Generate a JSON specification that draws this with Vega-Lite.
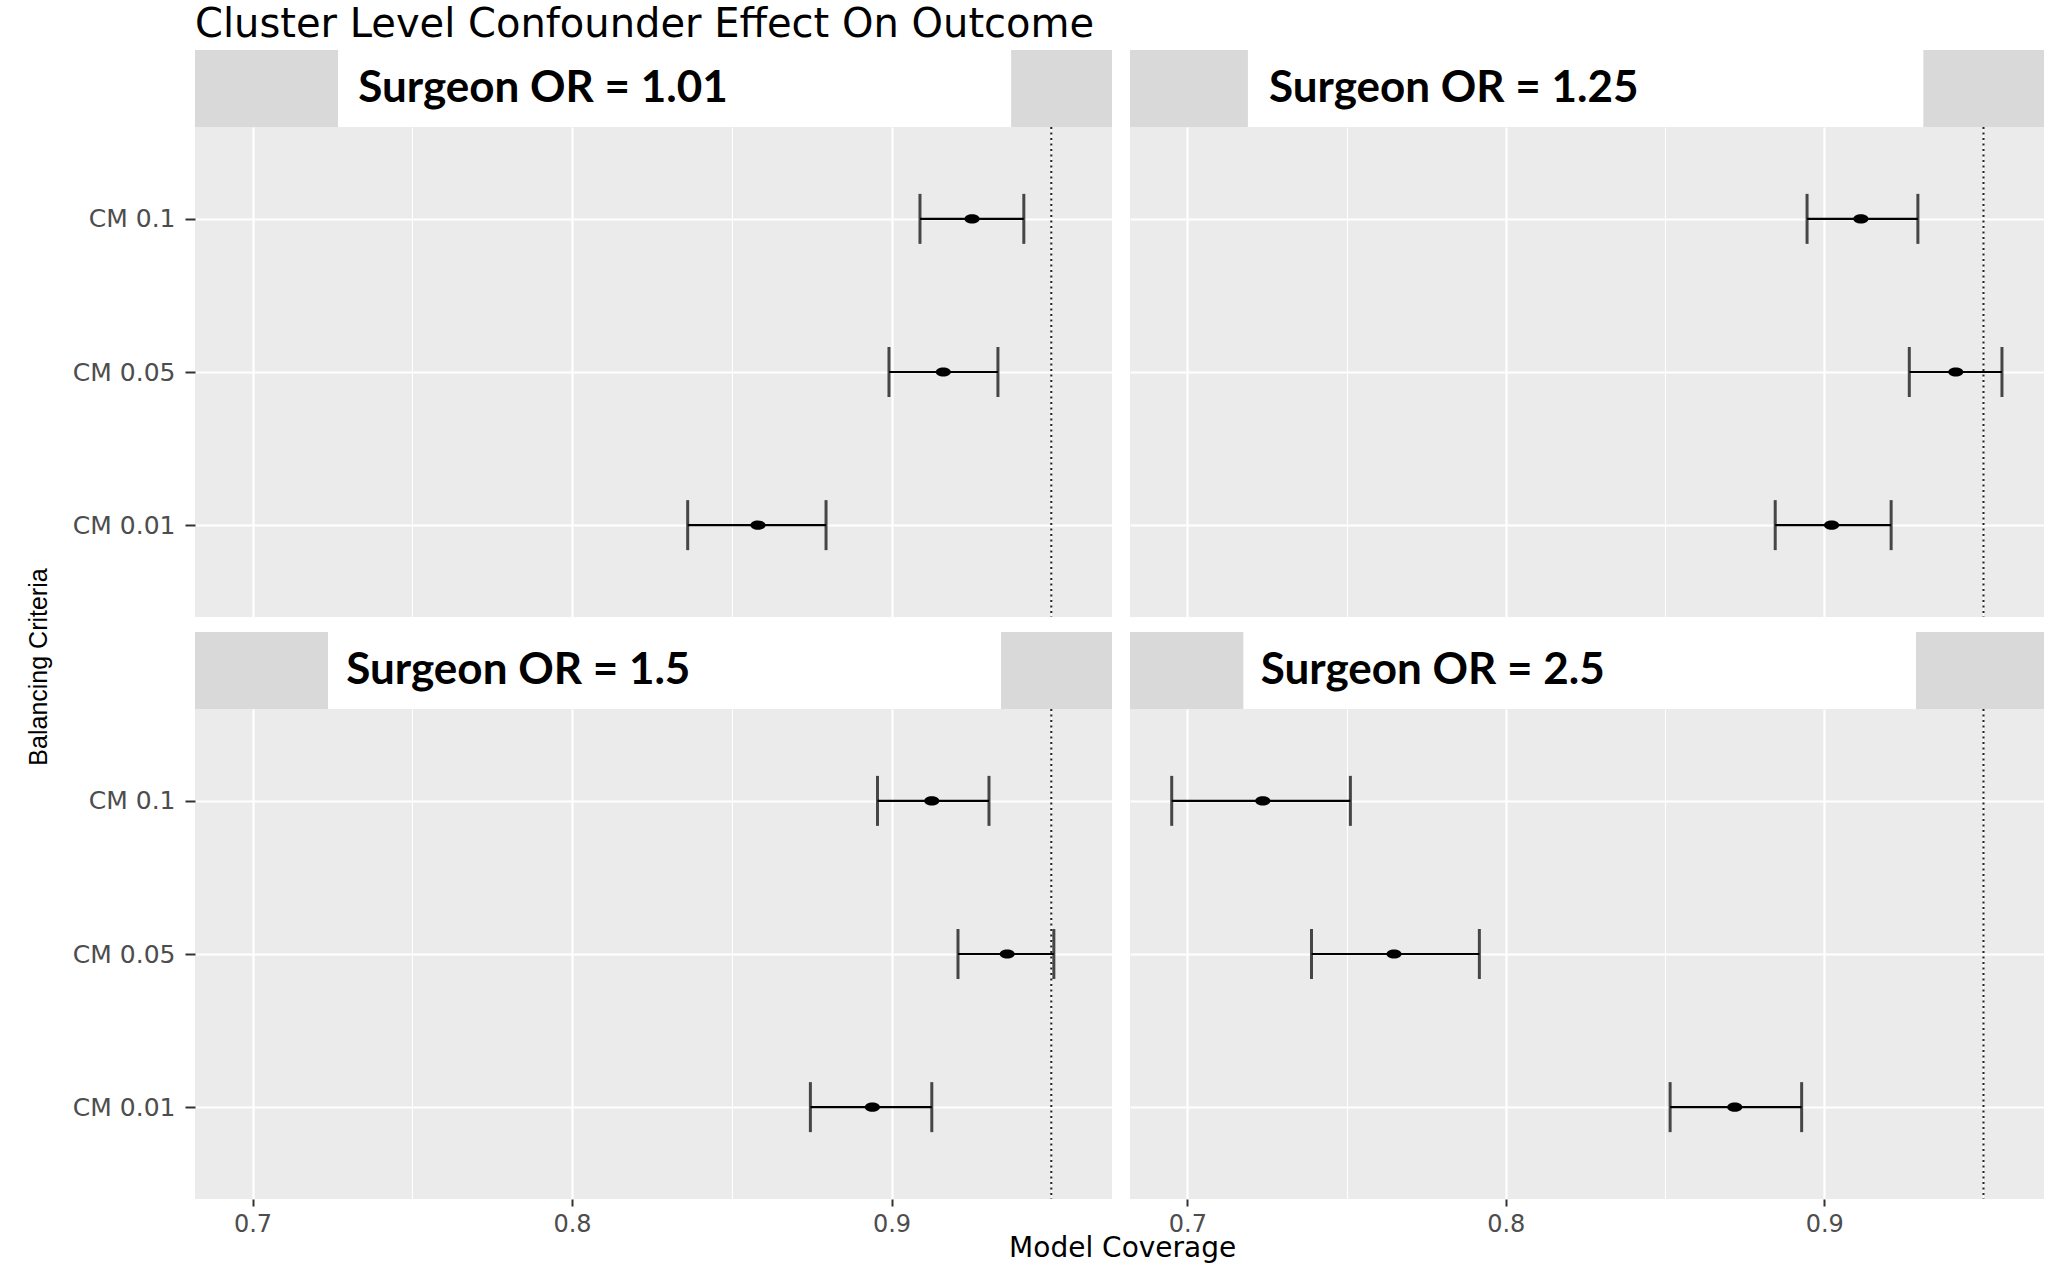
{
  "$schema": "https://vega.github.io/schema/vega-lite/v6.json",
  "background": "white",
  "padding": {"left": 27, "top": 5, "right": 0, "bottom": 0},
  "datasets": {
    "cov": [
      {"or": "Surgeon OR = 1.01", "crit": "CM 0.1", "lo": 0.9089, "est": 0.9252, "hi": 0.9414},
      {"or": "Surgeon OR = 1.01", "crit": "CM 0.05", "lo": 0.8992, "est": 0.9162, "hi": 0.9333},
      {"or": "Surgeon OR = 1.01", "crit": "CM 0.01", "lo": 0.8362, "est": 0.8582, "hi": 0.8795},
      {"or": "Surgeon OR = 1.25", "crit": "CM 0.1", "lo": 0.8946, "est": 0.9115, "hi": 0.9294},
      {"or": "Surgeon OR = 1.25", "crit": "CM 0.05", "lo": 0.9267, "est": 0.9413, "hi": 0.9558},
      {"or": "Surgeon OR = 1.25", "crit": "CM 0.01", "lo": 0.8846, "est": 0.9023, "hi": 0.921},
      {"or": "Surgeon OR = 1.5", "crit": "CM 0.1", "lo": 0.8956, "est": 0.9126, "hi": 0.9305},
      {"or": "Surgeon OR = 1.5", "crit": "CM 0.05", "lo": 0.9208, "est": 0.9362, "hi": 0.9508},
      {"or": "Surgeon OR = 1.5", "crit": "CM 0.01", "lo": 0.8746, "est": 0.894, "hi": 0.9126},
      {"or": "Surgeon OR = 2.5", "crit": "CM 0.1", "lo": 0.6951, "est": 0.7237, "hi": 0.7512},
      {"or": "Surgeon OR = 2.5", "crit": "CM 0.05", "lo": 0.739, "est": 0.7649, "hi": 0.7917},
      {"or": "Surgeon OR = 2.5", "crit": "CM 0.01", "lo": 0.8516, "est": 0.8719, "hi": 0.8929}
    ]
  },
  "data": {"name": "cov"},
  "title": {"text": "Cluster Level Confounder Effect On Outcome", "anchor": "start", "frame": "group", "font": "DejaVu Sans", "fontSize": 40, "fontWeight": "normal", "color": "#000000", "offset": 5},
  "spacing": 0,
  "vconcat": [
    {
      "title": {"text": "Model Coverage", "orient": "bottom", "anchor": "middle", "font": "DejaVu Sans", "fontSize": 28, "fontWeight": "normal", "color": "#000000", "offset": -1, "dx": 87},
      "spacing": 0,
      "vconcat": [
        {
          "title": {"text": "Balancing Criteria", "orient": "left", "anchor": "middle", "font": "Liberation Sans", "fontSize": 25, "fontWeight": "normal", "color": "#000000", "offset": 20, "dx": -24},
          "spacing": 14,
          "vconcat": [
            {
              "spacing": 18,
              "hconcat": [
                {
                  "bounds": "flush",
                  "spacing": 0,
                  "vconcat": [
                    {
                      "width": 917, "height": 77,
                      "view": {"fill": "#D9D9D9", "stroke": null},
                      "transform": [{"filter": "datum.or == 'Surgeon OR = 1.01' && datum.crit == 'CM 0.1'"}],
                      "layer": [
                        {"mark": {"type": "rect", "color": "white"}, "encoding": {"x": {"datum": 0.156, "type": "quantitative", "scale": {"domain": [0, 1], "nice": false, "zero": false}, "axis": null}, "x2": {"datum": 0.89}}},
                        {"mark": {"type": "text", "align": "left", "baseline": "middle", "font": "Lato", "fontWeight": "bold", "fontSize": 44, "color": "black"}, "encoding": {"x": {"datum": 0.178, "type": "quantitative"}, "text": {"field": "or"}}}
                      ]
                    },
                    {
                      "width": 917, "height": 490,
                      "view": {"fill": "#EBEBEB", "stroke": null},
                      "resolve": {"axis": {"x": "independent"}},
                      "layer": [
                        {"transform": [{"filter": "datum.or == 'Surgeon OR = 1.01'"}], "mark": {"type": "errorbar", "ticks": {"size": 50, "thickness": 3, "color": "#000000"}, "rule": {"strokeWidth": 2.2, "color": "#000000"}}, "encoding": {"x": {"field": "lo", "type": "quantitative", "scale": {"domain": [0.682, 0.969], "nice": false, "zero": false}, "axis": {"orient": "bottom", "values": [0.7, 0.8, 0.9], "title": null, "labels": false, "ticks": false, "domain": false, "grid": true, "gridColor": "white", "gridWidth": 2.2, "minExtent": 0, "maxExtent": 0}}, "x2": {"field": "hi"}, "y": {"field": "crit", "type": "ordinal", "sort": ["CM 0.1", "CM 0.05", "CM 0.01"], "scale": {"type": "point", "padding": 0.6}, "axis": {"title": null, "labelFont": "DejaVu Sans", "labelFontSize": 25, "labelColor": "#4D4D4D", "tickColor": "#333333", "tickSize": 10, "tickWidth": 2, "labelPadding": 10, "domain": false, "grid": true, "gridColor": "white", "gridWidth": 2.2}}}},
                        {"data": {"values": [{"ref": 0.95}]}, "mark": {"type": "rule", "color": "#222222", "strokeWidth": 2, "strokeDash": [2, 3.5]}, "encoding": {"x": {"field": "ref", "type": "quantitative", "axis": {"orient": "top", "values": [0.75, 0.85, 0.95], "title": null, "labels": false, "ticks": false, "domain": false, "grid": true, "gridColor": "white", "gridWidth": 1.1, "minExtent": 0, "maxExtent": 0}}}},
                        {"transform": [{"filter": "datum.or == 'Surgeon OR = 1.01'"}], "mark": {"type": "point", "filled": true, "opacity": 1, "color": "#000000", "shape": "M -1 0 A 1 0.6 0 1 1 1 0 A 1 0.6 0 1 1 -1 0 Z", "size": 230}, "encoding": {"x": {"field": "est", "type": "quantitative", "axis": null}, "y": {"field": "crit", "type": "ordinal", "sort": ["CM 0.1", "CM 0.05", "CM 0.01"]}}}
                      ]
                    }
                  ]
                },
                {
                  "bounds": "flush",
                  "spacing": 0,
                  "vconcat": [
                    {
                      "width": 914, "height": 77,
                      "view": {"fill": "#D9D9D9", "stroke": null},
                      "transform": [{"filter": "datum.or == 'Surgeon OR = 1.25' && datum.crit == 'CM 0.1'"}],
                      "layer": [
                        {"mark": {"type": "rect", "color": "white"}, "encoding": {"x": {"datum": 0.129, "type": "quantitative", "scale": {"domain": [0, 1], "nice": false, "zero": false}, "axis": null}, "x2": {"datum": 0.868}}},
                        {"mark": {"type": "text", "align": "left", "baseline": "middle", "font": "Lato", "fontWeight": "bold", "fontSize": 44, "color": "black"}, "encoding": {"x": {"datum": 0.152, "type": "quantitative"}, "text": {"field": "or"}}}
                      ]
                    },
                    {
                      "width": 914, "height": 490,
                      "view": {"fill": "#EBEBEB", "stroke": null},
                      "resolve": {"axis": {"x": "independent"}},
                      "layer": [
                        {"transform": [{"filter": "datum.or == 'Surgeon OR = 1.25'"}], "mark": {"type": "errorbar", "ticks": {"size": 50, "thickness": 3, "color": "#000000"}, "rule": {"strokeWidth": 2.2, "color": "#000000"}}, "encoding": {"x": {"field": "lo", "type": "quantitative", "scale": {"domain": [0.682, 0.969], "nice": false, "zero": false}, "axis": {"orient": "bottom", "values": [0.7, 0.8, 0.9], "title": null, "labels": false, "ticks": false, "domain": false, "grid": true, "gridColor": "white", "gridWidth": 2.2, "minExtent": 0, "maxExtent": 0}}, "x2": {"field": "hi"}, "y": {"field": "crit", "type": "ordinal", "sort": ["CM 0.1", "CM 0.05", "CM 0.01"], "scale": {"type": "point", "padding": 0.6}, "axis": {"title": null, "labels": false, "ticks": false, "domain": false, "grid": true, "gridColor": "white", "gridWidth": 2.2, "minExtent": 0, "maxExtent": 0}}}},
                        {"data": {"values": [{"ref": 0.95}]}, "mark": {"type": "rule", "color": "#222222", "strokeWidth": 2, "strokeDash": [2, 3.5]}, "encoding": {"x": {"field": "ref", "type": "quantitative", "axis": {"orient": "top", "values": [0.75, 0.85, 0.95], "title": null, "labels": false, "ticks": false, "domain": false, "grid": true, "gridColor": "white", "gridWidth": 1.1, "minExtent": 0, "maxExtent": 0}}}},
                        {"transform": [{"filter": "datum.or == 'Surgeon OR = 1.25'"}], "mark": {"type": "point", "filled": true, "opacity": 1, "color": "#000000", "shape": "M -1 0 A 1 0.6 0 1 1 1 0 A 1 0.6 0 1 1 -1 0 Z", "size": 230}, "encoding": {"x": {"field": "est", "type": "quantitative", "axis": null}, "y": {"field": "crit", "type": "ordinal", "sort": ["CM 0.1", "CM 0.05", "CM 0.01"]}}}
                      ]
                    }
                  ]
                }
              ]
            },
            {
              "spacing": 18,
              "hconcat": [
                {
                  "bounds": "flush",
                  "spacing": 0,
                  "vconcat": [
                    {
                      "width": 917, "height": 77,
                      "view": {"fill": "#D9D9D9", "stroke": null},
                      "transform": [{"filter": "datum.or == 'Surgeon OR = 1.5' && datum.crit == 'CM 0.1'"}],
                      "layer": [
                        {"mark": {"type": "rect", "color": "white"}, "encoding": {"x": {"datum": 0.145, "type": "quantitative", "scale": {"domain": [0, 1], "nice": false, "zero": false}, "axis": null}, "x2": {"datum": 0.879}}},
                        {"mark": {"type": "text", "align": "left", "baseline": "middle", "font": "Lato", "fontWeight": "bold", "fontSize": 44, "color": "black"}, "encoding": {"x": {"datum": 0.165, "type": "quantitative"}, "text": {"field": "or"}}}
                      ]
                    },
                    {
                      "width": 917, "height": 490,
                      "view": {"fill": "#EBEBEB", "stroke": null},
                      "resolve": {"axis": {"x": "independent"}},
                      "layer": [
                        {"transform": [{"filter": "datum.or == 'Surgeon OR = 1.5'"}], "mark": {"type": "errorbar", "ticks": {"size": 50, "thickness": 3, "color": "#000000"}, "rule": {"strokeWidth": 2.2, "color": "#000000"}}, "encoding": {"x": {"field": "lo", "type": "quantitative", "scale": {"domain": [0.682, 0.969], "nice": false, "zero": false}, "axis": {"orient": "bottom", "values": [0.7, 0.8, 0.9], "format": ".1f", "title": null, "labelFont": "DejaVu Sans", "labelFontSize": 24, "labelColor": "#4D4D4D", "tickColor": "#333333", "tickSize": 7, "tickWidth": 2, "labelPadding": 6, "domain": false, "grid": true, "gridColor": "white", "gridWidth": 2.2}}, "x2": {"field": "hi"}, "y": {"field": "crit", "type": "ordinal", "sort": ["CM 0.1", "CM 0.05", "CM 0.01"], "scale": {"type": "point", "padding": 0.6}, "axis": {"title": null, "labelFont": "DejaVu Sans", "labelFontSize": 25, "labelColor": "#4D4D4D", "tickColor": "#333333", "tickSize": 10, "tickWidth": 2, "labelPadding": 10, "domain": false, "grid": true, "gridColor": "white", "gridWidth": 2.2}}}},
                        {"data": {"values": [{"ref": 0.95}]}, "mark": {"type": "rule", "color": "#222222", "strokeWidth": 2, "strokeDash": [2, 3.5]}, "encoding": {"x": {"field": "ref", "type": "quantitative", "axis": {"orient": "top", "values": [0.75, 0.85, 0.95], "title": null, "labels": false, "ticks": false, "domain": false, "grid": true, "gridColor": "white", "gridWidth": 1.1, "minExtent": 0, "maxExtent": 0}}}},
                        {"transform": [{"filter": "datum.or == 'Surgeon OR = 1.5'"}], "mark": {"type": "point", "filled": true, "opacity": 1, "color": "#000000", "shape": "M -1 0 A 1 0.6 0 1 1 1 0 A 1 0.6 0 1 1 -1 0 Z", "size": 230}, "encoding": {"x": {"field": "est", "type": "quantitative", "axis": null}, "y": {"field": "crit", "type": "ordinal", "sort": ["CM 0.1", "CM 0.05", "CM 0.01"]}}}
                      ]
                    }
                  ]
                },
                {
                  "bounds": "flush",
                  "spacing": 0,
                  "vconcat": [
                    {
                      "width": 914, "height": 77,
                      "view": {"fill": "#D9D9D9", "stroke": null},
                      "transform": [{"filter": "datum.or == 'Surgeon OR = 2.5' && datum.crit == 'CM 0.1'"}],
                      "layer": [
                        {"mark": {"type": "rect", "color": "white"}, "encoding": {"x": {"datum": 0.124, "type": "quantitative", "scale": {"domain": [0, 1], "nice": false, "zero": false}, "axis": null}, "x2": {"datum": 0.86}}},
                        {"mark": {"type": "text", "align": "left", "baseline": "middle", "font": "Lato", "fontWeight": "bold", "fontSize": 44, "color": "black"}, "encoding": {"x": {"datum": 0.143, "type": "quantitative"}, "text": {"field": "or"}}}
                      ]
                    },
                    {
                      "width": 914, "height": 490,
                      "view": {"fill": "#EBEBEB", "stroke": null},
                      "resolve": {"axis": {"x": "independent"}},
                      "layer": [
                        {"transform": [{"filter": "datum.or == 'Surgeon OR = 2.5'"}], "mark": {"type": "errorbar", "ticks": {"size": 50, "thickness": 3, "color": "#000000"}, "rule": {"strokeWidth": 2.2, "color": "#000000"}}, "encoding": {"x": {"field": "lo", "type": "quantitative", "scale": {"domain": [0.682, 0.969], "nice": false, "zero": false}, "axis": {"orient": "bottom", "values": [0.7, 0.8, 0.9], "format": ".1f", "title": null, "labelFont": "DejaVu Sans", "labelFontSize": 24, "labelColor": "#4D4D4D", "tickColor": "#333333", "tickSize": 7, "tickWidth": 2, "labelPadding": 6, "domain": false, "grid": true, "gridColor": "white", "gridWidth": 2.2}}, "x2": {"field": "hi"}, "y": {"field": "crit", "type": "ordinal", "sort": ["CM 0.1", "CM 0.05", "CM 0.01"], "scale": {"type": "point", "padding": 0.6}, "axis": {"title": null, "labels": false, "ticks": false, "domain": false, "grid": true, "gridColor": "white", "gridWidth": 2.2, "minExtent": 0, "maxExtent": 0}}}},
                        {"data": {"values": [{"ref": 0.95}]}, "mark": {"type": "rule", "color": "#222222", "strokeWidth": 2, "strokeDash": [2, 3.5]}, "encoding": {"x": {"field": "ref", "type": "quantitative", "axis": {"orient": "top", "values": [0.75, 0.85, 0.95], "title": null, "labels": false, "ticks": false, "domain": false, "grid": true, "gridColor": "white", "gridWidth": 1.1, "minExtent": 0, "maxExtent": 0}}}},
                        {"transform": [{"filter": "datum.or == 'Surgeon OR = 2.5'"}], "mark": {"type": "point", "filled": true, "opacity": 1, "color": "#000000", "shape": "M -1 0 A 1 0.6 0 1 1 1 0 A 1 0.6 0 1 1 -1 0 Z", "size": 230}, "encoding": {"x": {"field": "est", "type": "quantitative", "axis": null}, "y": {"field": "crit", "type": "ordinal", "sort": ["CM 0.1", "CM 0.05", "CM 0.01"]}}}
                      ]
                    }
                  ]
                }
              ]
            }
          ]
        }
      ]
    }
  ],
  "config": {
    "view": {"stroke": null},
    "axis": {"labelFont": "DejaVu Sans", "titleFont": "DejaVu Sans"}
  }
}
